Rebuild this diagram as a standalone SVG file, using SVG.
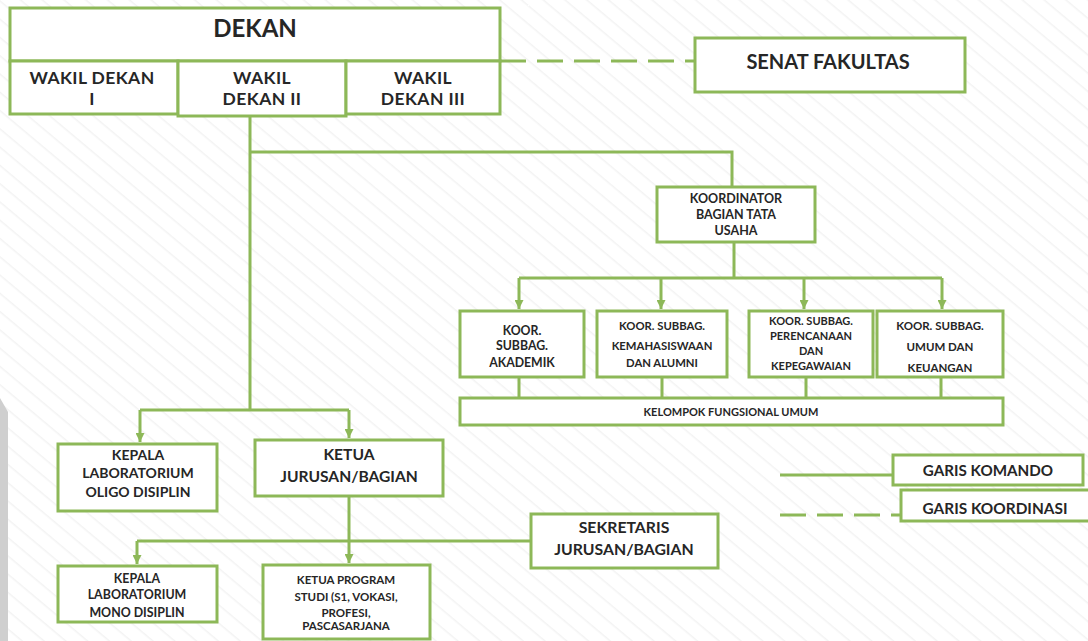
<svg xmlns="http://www.w3.org/2000/svg" width="1088" height="641" viewBox="0 0 1088 641">
<defs>
<pattern id="stripes" width="14" height="14" patternUnits="userSpaceOnUse" patternTransform="rotate(40)">
<rect width="14" height="14" fill="#ffffff"/>
<rect width="14" height="1.5" fill="#f3f3f3"/>
</pattern>
<marker id="arr" viewBox="0 0 10 10" refX="10" refY="5" markerWidth="3" markerHeight="3" orient="auto" markerUnits="strokeWidth">
<path d="M0,0 L10,5 L0,10 z" fill="#8db858"/>
</marker>
<style>
.box{fill:#ffffff;stroke:#8db858;stroke-width:3}
.ln{fill:none;stroke:#8db858;stroke-width:3}
.dash{fill:none;stroke:#8db858;stroke-width:3;stroke-dasharray:26 11}
text{font-family:Lato,"Open Sans","Liberation Sans",sans-serif;font-weight:bold;fill:#262626;text-anchor:middle}
.wk{font-size:17.5px;letter-spacing:0.4px}
</style>
</defs>
<rect width="1088" height="641" fill="url(#stripes)"/>
<path d="M0,398 L8,412 L8,641 L0,641 z" fill="#cfcfcf"/>

<g id="connectors">
<path class="dash" d="M500,61 H695"/>
<path class="ln" d="M250,116 V410"/>
<path class="ln" d="M250,152 H732 V187"/>
<path class="ln" d="M734,242 V278"/>
<path class="ln" d="M519,278 H942"/>
<path class="ln" d="M519,278 V309" marker-end="url(#arr)"/>
<path class="ln" d="M661,278 V309" marker-end="url(#arr)"/>
<path class="ln" d="M804,278 V309" marker-end="url(#arr)"/>
<path class="ln" d="M942,278 V309" marker-end="url(#arr)"/>
<path class="ln" d="M519,377 V398 M662,377 V398 M806,377 V398 M941,377 V398"/>
<path class="ln" d="M140,410 H349"/>
<path class="ln" d="M140,410 V442" marker-end="url(#arr)"/>
<path class="ln" d="M349,410 V438" marker-end="url(#arr)"/>
<path class="ln" d="M349,496 V541"/>
<path class="ln" d="M137,541 H531"/>
<path class="ln" d="M137,541 V564" marker-end="url(#arr)"/>
<path class="ln" d="M349,541 V563" marker-end="url(#arr)"/>
<path class="ln" d="M780,475 H893"/>
<path class="dash" d="M780,515 H901"/>
</g>

<g id="dekan">
<rect class="box" x="10" y="8" width="490" height="53"/>
<text x="255" y="37" font-size="24">DEKAN</text>
</g>
<g id="wakil-dekan-1">
<rect class="box" x="10" y="61" width="168" height="53"/>
<text class="wk" x="92" y="84">WAKIL DEKAN</text>
<text class="wk" x="92" y="105">I</text>
</g>
<g id="wakil-dekan-2">
<rect class="box" x="178" y="61" width="168" height="55"/>
<text class="wk" x="262" y="84">WAKIL</text>
<text class="wk" x="262" y="105">DEKAN II</text>
</g>
<g id="wakil-dekan-3">
<rect class="box" x="346" y="61" width="154" height="53"/>
<text class="wk" x="423" y="84">WAKIL</text>
<text class="wk" x="423" y="105">DEKAN III</text>
</g>
<g id="senat">
<rect class="box" x="695" y="38" width="270" height="54"/>
<text x="828" y="69" font-size="20">SENAT FAKULTAS</text>
</g>
<g id="koordinator-tu">
<rect class="box" x="657" y="187" width="158" height="55"/>
<text x="736" y="203" font-size="12.5">KOORDINATOR</text>
<text x="736" y="219" font-size="12.5">BAGIAN TATA</text>
<text x="736" y="235" font-size="12.5">USAHA</text>
</g>
<g id="subbag-akademik">
<rect class="box" x="460" y="311" width="124" height="66"/>
<text x="522" y="335" font-size="12.3">KOOR.</text>
<text x="522" y="350" font-size="12.3">SUBBAG.</text>
<text x="522" y="367" font-size="12.3">AKADEMIK</text>
</g>
<g id="subbag-kemahasiswaan">
<rect class="box" x="597" y="311" width="130" height="66"/>
<text x="662" y="330" font-size="11.3">KOOR. SUBBAG.</text>
<text x="662" y="350" font-size="11.3">KEMAHASISWAAN</text>
<text x="662" y="367" font-size="11.3">DAN ALUMNI</text>
</g>
<g id="subbag-perencanaan">
<rect class="box" x="749" y="311" width="124" height="66"/>
<text x="811" y="325" font-size="11">KOOR. SUBBAG.</text>
<text x="811" y="340" font-size="11">PERENCANAAN</text>
<text x="811" y="355" font-size="11">DAN</text>
<text x="811" y="370" font-size="11">KEPEGAWAIAN</text>
</g>
<g id="subbag-umum">
<rect class="box" x="877" y="311" width="126" height="66"/>
<text x="940" y="330" font-size="11.5">KOOR. SUBBAG.</text>
<text x="940" y="351" font-size="11.5">UMUM DAN</text>
<text x="940" y="372" font-size="11.5">KEUANGAN</text>
</g>
<g id="kelompok-fungsional">
<rect class="box" x="460" y="398" width="543" height="27"/>
<text x="731" y="416" font-size="11">KELOMPOK FUNGSIONAL UMUM</text>
</g>
<g id="lab-oligo">
<rect class="box" x="58" y="444" width="159" height="67"/>
<text x="138" y="460" font-size="14">KEPALA</text>
<text x="138" y="478" font-size="14">LABORATORIUM</text>
<text x="138" y="497" font-size="14">OLIGO DISIPLIN</text>
</g>
<g id="ketua-jurusan">
<rect class="box" x="255" y="440" width="188" height="56"/>
<text x="349" y="460" font-size="15.6">KETUA</text>
<text x="349" y="482" font-size="15.6">JURUSAN/BAGIAN</text>
</g>
<g id="sekretaris">
<rect class="box" x="531" y="514" width="187" height="54"/>
<text x="624" y="533" font-size="15.8">SEKRETARIS</text>
<text x="624" y="555" font-size="15.8">JURUSAN/BAGIAN</text>
</g>
<g id="lab-mono">
<rect class="box" x="58" y="566" width="159" height="56"/>
<text x="137" y="583" font-size="12.4">KEPALA</text>
<text x="137" y="599" font-size="12.4">LABORATORIUM</text>
<text x="137" y="617" font-size="12.4">MONO DISIPLIN</text>
</g>
<g id="ketua-prodi">
<rect class="box" x="263" y="565" width="167" height="74"/>
<text x="346" y="584" font-size="11.5">KETUA PROGRAM</text>
<text x="346" y="601" font-size="11.5">STUDI (S1, VOKASI,</text>
<text x="346" y="617" font-size="11.5">PROFESI,</text>
<text x="346" y="630" font-size="11.5">PASCASARJANA</text>
</g>
<g id="legend-komando">
<rect class="box" x="893" y="455" width="190" height="30"/>
<text x="988" y="476" font-size="15.2">GARIS KOMANDO</text>
</g>
<g id="legend-koordinasi">
<rect class="box" x="901" y="490" width="190" height="31"/>
<text x="995" y="514" font-size="15.4">GARIS KOORDINASI</text>
</g>
</svg>
